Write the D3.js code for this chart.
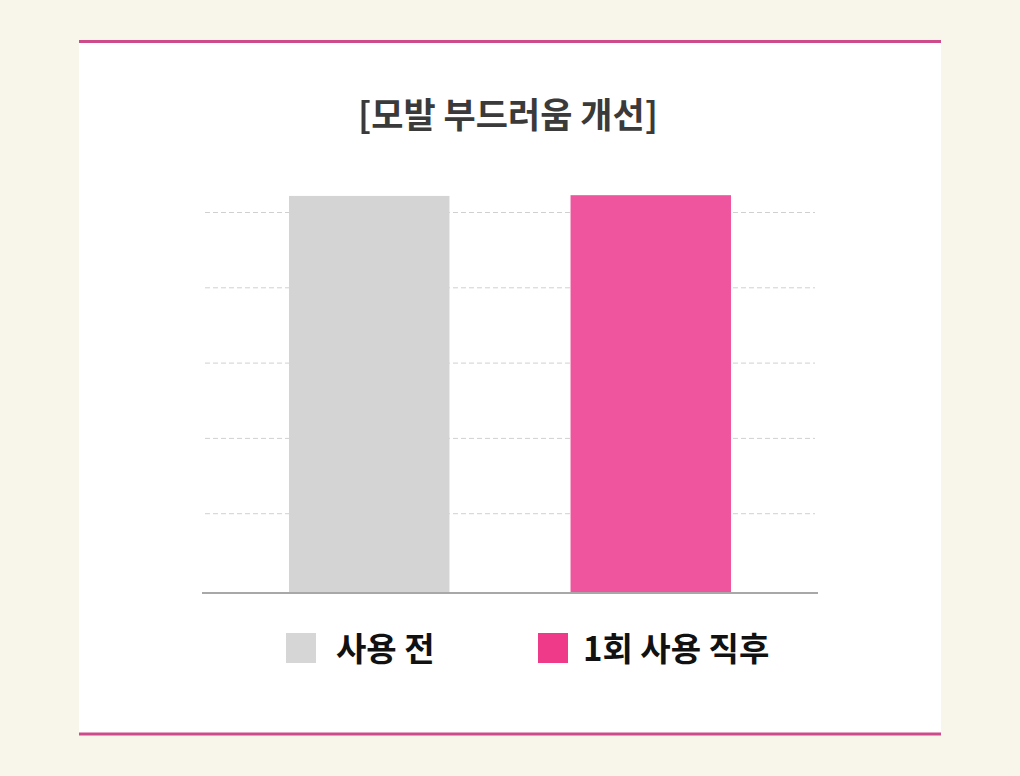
<!DOCTYPE html>
<html>
<head>
<meta charset="utf-8">
<script src="https://cdn.jsdelivr.net/npm/d3@7"></script>
<style>
  body { margin: 0; background: #f8f6eb; }
  svg { display: block; }
</style>
</head>
<body>
<div id="chart"></div>
<script>
// Data
var categories = ["사용 전", "1회 사용 직후"];
var values = [104.4, 104.6];
var barColors = ["#d4d4d4", "#ef559f"];
var swatchColors = ["#d6d6d6", "#ef3a8a"];
var gridTicks = [20, 40, 60, 80, 100];
var title = "[모발 부드러움 개선]";

var svgWidth = 1020;
var svgHeight = 776;

var svg = d3.select("#chart")
  .append("svg")
  .attr("width", svgWidth)
  .attr("height", svgHeight);

// cream background and white card
svg.append("rect")
  .attr("width", svgWidth)
  .attr("height", svgHeight)
  .attr("fill", "#f8f6eb");

svg.append("rect")
  .attr("x", 79)
  .attr("y", 40)
  .attr("width", 862)
  .attr("height", 695)
  .attr("fill", "#ffffff");

// pink rules top and bottom
[41.5, 734].forEach(function(y) {
  svg.append("line")
    .attr("x1", 79).attr("x2", 941)
    .attr("y1", y).attr("y2", y)
    .attr("stroke", "#cd4b8a")
    .attr("stroke-width", 3);
});

// title
svg.append("text")
  .attr("x", 508)
  .attr("y", 128)
  .attr("text-anchor", "middle")
  .attr("font-family", "'Noto Sans CJK KR', sans-serif")
  .attr("font-weight", 700)
  .attr("font-size", 35)
  .attr("fill", "#3a3a3a")
  .text(title);

// scales
var xScale = d3.scaleBand()
  .domain(categories)
  .range([202, 818])
  .paddingInner(0.43)
  .paddingOuter(0.309);

var yScale = d3.scaleLinear()
  .domain([0, 100])
  .range([589, 212.5]);

var baseY = 593;

// dashed gridlines
svg.append("g")
  .selectAll("line")
  .data(gridTicks)
  .enter()
  .append("line")
  .attr("x1", 205)
  .attr("x2", 815)
  .attr("y1", d => yScale(d))
  .attr("y2", d => yScale(d))
  .attr("stroke", "#d0d0d0")
  .attr("stroke-width", 1)
  .attr("stroke-dasharray", "5,3");

// bars
svg.append("g")
  .selectAll("rect")
  .data(values)
  .enter()
  .append("rect")
  .attr("x", (d, i) => xScale(categories[i]))
  .attr("y", d => yScale(d))
  .attr("width", xScale.bandwidth())
  .attr("height", d => baseY - yScale(d))
  .attr("fill", (d, i) => barColors[i]);

// baseline
svg.append("line")
  .attr("x1", 202).attr("x2", 818)
  .attr("y1", baseY).attr("y2", baseY)
  .attr("stroke", "#a8a8a8")
  .attr("stroke-width", 2);

// legend
var legendX = [286, 538];
var legend = svg.append("g")
  .selectAll("g")
  .data(categories)
  .enter()
  .append("g")
  .attr("transform", (d, i) => `translate(${legendX[i]}, 633)`);

legend.append("rect")
  .attr("width", 30)
  .attr("height", 30)
  .attr("fill", (d, i) => swatchColors[i]);

legend.append("text")
  .attr("x", (d, i) => i === 0 ? 50 : 45)
  .attr("y", 28)
  .attr("font-family", "'Noto Sans CJK KR', sans-serif")
  .attr("font-weight", 700)
  .attr("font-size", 33)
  .attr("fill", "#111")
  .text(d => d);
</script>
</body>
</html>
